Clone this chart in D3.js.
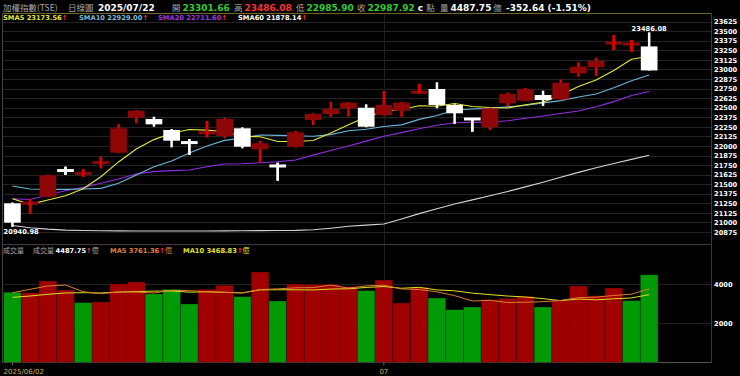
<!DOCTYPE html>
<html>
<head>
<meta charset="utf-8">
<script src="https://cdn.jsdelivr.net/npm/d3@7"></script>
<style>
  body { margin: 0; background: #000; }
  svg { display: block; }
</style>
</head>
<body>
<svg id="chart" width="740" height="376"></svg>
<script>
// daily TAIEX, 2025/06/02 - 2025/07/22
const dates = ["2025/06/02","2025/06/03","2025/06/04","2025/06/05","2025/06/06","2025/06/09","2025/06/10","2025/06/11","2025/06/12","2025/06/13",
  "2025/06/16","2025/06/17","2025/06/18","2025/06/19","2025/06/20","2025/06/23","2025/06/24","2025/06/25","2025/06/26","2025/06/27",
  "2025/06/30","2025/07/01","2025/07/02","2025/07/03","2025/07/04","2025/07/07","2025/07/08","2025/07/09","2025/07/10","2025/07/11",
  "2025/07/14","2025/07/15","2025/07/16","2025/07/17","2025/07/18","2025/07/21","2025/07/22"]
const opens = [21250,21240,21337,21685,21635,21775,21912,22370,22353,22209,22050,22160,22130,22231,21956,21745,21990,22339,22418,22492,
  22500,22405,22461,22695,22745,22536,22358,22244,22558,22592,22666,22610,22950,23029,23330,23325,23301.66]
const highs = [21262,21306,21625,21729,21695,21860,22287,22470,22383,22222,22091,22326,22370,22244,22069,21781,22196,22427,22579,22575,
  22545,22719,22575,22810,22833,22545,22365,22500,22697,22758,22723,22872,23094,23154,23451,23386,23486.08]
const lows = [20940.98,21110,21330,21620,21598,21708,21905,22296,22252,21982,21882,22113,22100,21969,21781,21546,21980,22274,22383,22383,
  22245,22395,22383,22690,22493,22287,22187,22209,22523,22585,22523,22597,22906,22915,23255,23233,22985.90]
const closes = [20997,21265,21616,21672,21648,21790,22231,22461,22283,22069,22038,22185,22353,21990,22035,21732,22179,22418,22483,22566,
  22252,22536,22566,22710,22536,22427,22348,22492,22680,22741,22601,22827,23037,23111,23360,23340.56,22987.92]
const prevClose = 21347
const volumes = [3590,3571,4170,3708,3057,3091,4015,4118,3503,3742,2990,3742,3948,3366,4630,3143,4015,3998,3998,3879,
  3673,4220,3040,3845,3297,2699,2835,3212,3280,3384,2835,3161,3913,3417,3811,3161,4487.75]

const sma5 = [21310,21237,21293,21350,21440,21598,21791,21960,22083,22167,22216,22207,22186,22127,22120,22059,22058,22071,22169,22276,
  22380,22451,22481,22526,22520,22555,22517,22503,22497,22538,22572,22668,22777,22863,22987,23135,23173.56]
const sma10 = [21476,21437,21433,21433,21437,21446,21512,21620,21729,21803,21907,21999,22073,22105,22144,22138,22133,22128,22148,22198,
  22219,22254,22276,22348,22398,22467,22484,22492,22511,22529,22564,22593,22640,22680,22762,22854,22929.00]
const sma20 = [21310,21300,21359,21415,21459,21512,21568,21633,21664,21677,21686,21729,21765,21768,21781,21794,21816,21880,21940,22000,
  22063,22127,22174,22226,22271,22303,22308,22310,22330,22363,22392,22424,22458,22514,22580,22661,22711.60]
const sma60 = [20960,20930,20912,20900,20895,20892,20890,20889,20888,20888,20888,20889,20890,20892,20893,20894,20896,20905,20925,20950,
  20965,20980,21045,21115,21180,21240,21295,21350,21405,21465,21525,21590,21655,21715,21770,21825,21878.14]
const volMa5 = [3570,3743,3913,3964,3619,3519,3608,3598,3557,3694,3674,3619,3585,3558,3735,3766,3820,3830,3957,3807,
  3913,3954,3762,3731,3615,3420,3143,3178,3065,3082,3109,3174,3315,3342,3427,3493,3761.36]
const volMa10 = [3333,3400,3487,3554,3571,3554,3600,3630,3650,3657,3597,3614,3591,3557,3715,3720,3720,3708,3757,3771,
  3839,3887,3796,3844,3711,3666,3548,3470,3398,3349,3265,3159,3246,3203,3255,3301,3468.83]

const priceTicks = [23625,23500,23375,23250,23125,23000,22875,22750,22625,22500,22375,22250,22125,22000,21875,21750,21625,21500,21375,21250,21125,21000,20875]
const volTicks = [2000, 4000]
const dateTicks = ["2025/06/02", "2025/07/01"]
const dateTickLabels = ["2025/06/02", "07"]

const LAT = "'DejaVu Sans', Verdana, sans-serif"
const CJK = "'Noto Sans CJK TC', 'Noto Sans CJK SC', sans-serif"
const GRAY = "#a8a8a8"
const UP = "#ff3030", DOWN_TXT = "#33cc33"

const svg = d3.select("#chart")
svg.append("rect").attr("width", 740).attr("height", 376).attr("fill", "#000")

const n = dates.length
const x = d3.scaleBand().domain(d3.range(n)).range([3.6, 658]).padding(0)
const bw = x.bandwidth()
const cx = i => x(i) + bw / 2
const y = d3.scaleLinear().domain([20875, 23625]).range([232, 21.7])
const yv = d3.scaleLinear().domain([0, 4000]).range([362.3, 284.3])

// grid
const grid = svg.append("g").attr("stroke", "#242424").attr("stroke-width", 1)
grid.selectAll(".pg").data(priceTicks).enter().append("line")
    .attr("x1", 3).attr("x2", 712)
    .attr("y1", d => Math.round(y(d)) + 0.5).attr("y2", d => Math.round(y(d)) + 0.5)
grid.selectAll(".vg").data(volTicks).enter().append("line")
    .attr("x1", 3).attr("x2", 712)
    .attr("y1", d => Math.round(yv(d)) + 0.5).attr("y2", d => Math.round(yv(d)) + 0.5)
grid.selectAll(".dg").data(dateTicks.slice(1)).enter().append("line")
    .attr("x1", d => Math.round(cx(dates.indexOf(d))) + 0.5)
    .attr("x2", d => Math.round(cx(dates.indexOf(d))) + 0.5)
    .attr("y1", 14).attr("y2", 362)
    .attr("stroke", "#1e1e1e")

// frame
svg.append("line").attr("x1", 3).attr("x2", 712).attr("y1", 13.5).attr("y2", 13.5).attr("stroke", "#6e6a26")
svg.append("line").attr("x1", 3).attr("x2", 712).attr("y1", 244.5).attr("y2", 244.5).attr("stroke", "#4a3446")
svg.append("line").attr("x1", 3).attr("x2", 712).attr("y1", 362.5).attr("y2", 362.5).attr("stroke", "#555")
svg.append("line").attr("x1", 2.5).attr("x2", 2.5).attr("y1", 13).attr("y2", 363).attr("stroke", "#444")
svg.append("line").attr("x1", 711.5).attr("x2", 711.5).attr("y1", 13).attr("y2", 363).attr("stroke", "#3a3a3a")

// moving averages (price)
const line = d3.line().x((d, i) => cx(i)).y(d => y(d))
const maSpecs = [
    { data: sma60, color: "#d4d4d4" },
    { data: sma20, color: "#8f2fe0" },
    { data: sma10, color: "#6cb6d8" },
    { data: sma5, color: "#e8e83c" }
]
maSpecs.forEach(s => {
    svg.append("path").attr("d", line(s.data)).attr("fill", "none")
        .attr("stroke", s.color).attr("stroke-width", 1.1)
})

// candles
const isUp = i => closes[i] >= opens[i]
const bodyTop = i => y(Math.max(opens[i], closes[i]))
const bodyH = i => y(Math.min(opens[i], closes[i])) - bodyTop(i)
const idx = d3.range(n)

function wicks(g, data) {
    g.selectAll("line").data(data).enter().append("line")
        .attr("x1", i => cx(i)).attr("x2", i => cx(i))
        .attr("y1", i => y(highs[i])).attr("y2", i => y(lows[i]))
        .attr("stroke", i => isUp(i) ? "#e00000" : "#fff")
        .attr("stroke-width", 2.5)
}
wicks(svg.append("g"), idx)
svg.append("g").selectAll("rect").data(idx).enter().append("rect")
    .attr("x", i => x(i) + 0.5).attr("width", bw - 1)
    .attr("y", i => bodyH(i) < 3 ? bodyTop(i) - (3 - bodyH(i)) / 2 : bodyTop(i))
    .attr("height", i => Math.max(3, bodyH(i)))
    .attr("fill", i => isUp(i) ? "#8e0606" : "#fff")
// crosses: wick drawn again over the thin body
wicks(svg.append("g"), idx.filter(i => bodyH(i) < 4))

// high / low marks
const hiIdx = d3.maxIndex(highs), loIdx = d3.minIndex(lows)
svg.append("text").attr("x", cx(hiIdx)).attr("y", y(highs[hiIdx]) - 1)
    .attr("text-anchor", "middle").attr("fill", "#fff")
    .style("font", "bold 6.7px " + LAT).text(highs[hiIdx].toFixed(2))
svg.append("text").attr("x", x(loIdx)).attr("y", y(lows[loIdx]) + 7.5)
    .attr("fill", "#fff").style("font", "bold 6.7px " + LAT).text(lows[loIdx].toFixed(2))

// volume bars
svg.append("g").selectAll("rect").data(volumes).enter().append("rect")
    .attr("x", (d, i) => x(i)).attr("width", bw)
    .attr("y", d => yv(d)).attr("height", d => yv(0) - yv(d))
    .attr("fill", (d, i) => closes[i] >= (i ? closes[i - 1] : prevClose) ? "#a00000" : "#009a06")
    .attr("stroke", "rgba(0,0,0,0.35)").attr("stroke-width", 0.8)

const vline = d3.line().x((d, i) => cx(i)).y(d => yv(d))
svg.append("path").attr("d", vline(volMa10)).attr("fill", "none").attr("stroke", "#e2e024").attr("stroke-width", 1)
svg.append("path").attr("d", vline(volMa5)).attr("fill", "none").attr("stroke", "#dc7f30").attr("stroke-width", 1)

// axes
function styleAxis(g) {
    g.select(".domain").remove()
    g.selectAll("text").attr("fill", "#fff").style("font", "bold 6.7px " + LAT)
}
svg.append("g").attr("transform", "translate(712,0)")
    .call(d3.axisRight(y).tickValues(priceTicks).tickFormat(d3.format("d")).tickSize(0).tickPadding(2))
    .call(styleAxis)
svg.append("g").attr("transform", "translate(712,0)")
    .call(d3.axisRight(yv).tickValues(volTicks).tickFormat(d3.format("d")).tickSize(0).tickPadding(2))
    .call(styleAxis)
const xAxis = svg.append("g").attr("transform", "translate(0,362.5)")
    .call(d3.axisBottom(x).tickValues(dateTicks.map(d => dates.indexOf(d)))
        .tickFormat((d, k) => dateTickLabels[k]).tickSize(3).tickPadding(4))
xAxis.select(".domain").remove()
xAxis.selectAll("line").attr("stroke", "#666")
xAxis.selectAll("text").attr("fill", "#c8b45c").style("font", "7px " + LAT)
xAxis.select(".tick text").attr("text-anchor", "start").attr("x", -bw / 2)

// texts
function label(px, py, parts) {
    const t = svg.append("text").attr("x", px).attr("y", py)
    parts.forEach(p => {
        t.append("tspan").attr("fill", p.c)
            .style("font", (p.cjk ? "" : "bold ") + p.s + "px " + (p.cjk ? CJK : LAT))
            .text(p.t)
    })
}
const last = n - 1
const chg = closes[last] - closes[last - 1]
const pct = chg / closes[last - 1] * 100
const H = 9, HC = 8.5
label(3, 10.5, [{ t: "加權指數(TSE)", c: GRAY, s: HC, cjk: true }])
label(68, 10.5, [{ t: "日線圖", c: GRAY, s: HC, cjk: true }])
label(98, 10.5, [{ t: dates[last], c: "#fff", s: H }])
label(172, 10.5, [{ t: "開 ", c: GRAY, s: HC, cjk: true }, { t: opens[last].toFixed(2), c: DOWN_TXT, s: H }])
label(234, 10.5, [{ t: "高 ", c: GRAY, s: HC, cjk: true }, { t: highs[last].toFixed(2), c: UP, s: H }])
label(296, 10.5, [{ t: "低 ", c: GRAY, s: HC, cjk: true }, { t: lows[last].toFixed(2), c: DOWN_TXT, s: H }])
label(357, 10.5, [{ t: "收 ", c: GRAY, s: HC, cjk: true }, { t: closes[last].toFixed(2), c: DOWN_TXT, s: H },
    { t: " c ", c: "#fff", s: H }, { t: "點", c: GRAY, s: HC, cjk: true }])
label(440, 10.5, [{ t: "量 ", c: GRAY, s: HC, cjk: true }, { t: volumes[last].toFixed(2), c: "#fff", s: H },
    { t: " 億", c: GRAY, s: HC, cjk: true }])
label(506, 10.5, [{ t: chg.toFixed(2) + " (" + pct.toFixed(2) + "%)", c: "#fff", s: H }])

const S = 6.7
const legend = [
    { x: 3, name: "SMA5", v: sma5, c: "#e6e63e" },
    { x: 79, name: "SMA10", v: sma10, c: "#7abbd9" },
    { x: 158, name: "SMA20", v: sma20, c: "#9a38e4" },
    { x: 238, name: "SMA60", v: sma60, c: "#ffffff" }
]
legend.forEach(l => label(l.x, 19.5, [{ t: l.name + " " + l.v[last].toFixed(2), c: l.c, s: S }, { t: "↑", c: UP, s: S }]))

label(3, 253, [{ t: "成交量", c: GRAY, s: 7, cjk: true }])
label(33, 253, [{ t: "成交量 ", c: GRAY, s: 7, cjk: true }, { t: volumes[last].toFixed(2), c: "#fff", s: S },
    { t: "↑", c: UP, s: S }, { t: "億", c: "#b8a890", s: 7, cjk: true }])
label(110, 253, [{ t: "MA5 " + volMa5[last].toFixed(2), c: "#e0813a", s: S }, { t: "↑", c: UP, s: S },
    { t: "億", c: "#e0813a", s: 7, cjk: true }])
label(183, 253, [{ t: "MA10 " + volMa10[last].toFixed(2), c: "#e2e024", s: S }, { t: "↑", c: UP, s: S },
    { t: "億", c: "#e2e024", s: 7, cjk: true }])
</script>
</body>
</html>
